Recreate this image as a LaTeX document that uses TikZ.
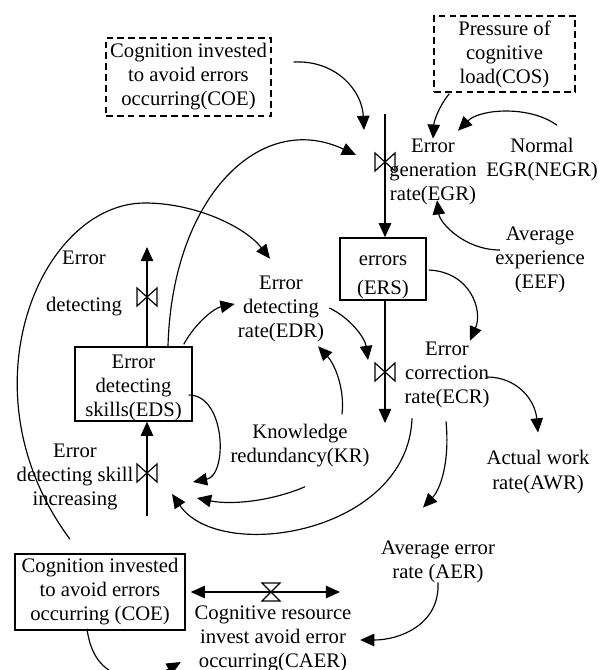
\documentclass[tikz,border=0pt]{standalone}
\usepackage{fontspec}
\setmainfont{Liberation Serif}
\usepackage{tikz}
\usetikzlibrary{arrows.meta}
\tikzstyle{sd_lvl} = [rectangle, draw=black, line width=0.9pt, align=center, inner sep=0pt]
\tikzstyle{sd_ext} = [rectangle, draw=black, dash pattern=on 4pt off 2.5pt, line width=0.8pt, align=center, inner sep=0pt]
\tikzstyle{sd_aux} = [align=center, inner sep=0pt]
\tikzstyle{sd_lnk} = [->, line width=0.7pt]
\tikzstyle{sd_flw} = [->, line width=0.7pt]
\tikzset{sd_valve/.pic={\draw[line width=0.7pt] (-10,-9) -- (-10,9) -- (10,-9) -- (10,9) -- cycle;},
sd_valveh/.pic={\draw[line width=0.7pt] (-9,-9) -- (9,-9) -- (-9,9) -- (9,9) -- cycle;}}

\begin{document}
\begin{tikzpicture}[x=0.6pt, y=-0.6pt, >={Triangle[length=8.5pt,width=7.5pt]},
font=\fontsize{12.4}{14.4}\selectfont]
\useasboundingbox (0,0) rectangle (599,670);

\node [sd_ext, minimum width=99pt, minimum height=46.8pt] (coe_x) at (188.5,77) {Cognition invested\\to avoid errors\\occurring(COE)};
\node [sd_ext, minimum width=84.6pt, minimum height=45.6pt] (cos_x) at (504.5,54) {Pressure of\\cognitive\\load(COS)};
\node [sd_aux] (egr) at (433,172) {Error\\generation\\rate(EGR)};
\node [sd_aux] (negr) at (542,160) {Normal\\EGR(NEGR)};
\node [sd_aux] (eef) at (540,260) {Average\\experience\\(EEF)};
\node [sd_lvl, minimum width=51.6pt, minimum height=37.2pt] (ers) at (383,269) {\rule{0pt}{15.6pt}errors\\[3pt](ERS)};
\node [sd_aux] (edr) at (281,309) {Error\\detecting\\rate(EDR)};
\node [sd_lvl, minimum width=70.2pt, minimum height=42pt] (eds) at (133.5,384) {\rule{0pt}{12.9pt}Error\\detecting\\skills(EDS)};
\node [sd_aux] (ecr) at (447,375) {Error\\correction\\rate(ECR)};
\node [sd_aux] (kr) at (300,446) {Knowledge\\redundancy(KR)};
\node [sd_aux] (awr) at (538,472) {Actual work\\[1pt]rate(AWR)};
\node [sd_aux] (aer) at (438,562) {Average error\\rate (AER)};
\node [sd_aux] (caer) at (273,639) {Cognitive resource\\invest avoid error\\occurring(CAER)};
\node [sd_lvl, minimum width=102pt, minimum height=45.6pt] (coe) at (100,592) {Cognition invested\\to avoid errors\\occurring (COE)};
\node [sd_aux] (edd_lbl) at (84,283) {Error\\[13.8pt]detecting};
\node [sd_aux] (edi_lbl) at (75,477) {Error\\detecting skill\\increasing};

\coordinate (v_egr) at (385,162);
\coordinate (v_ecr) at (385,372);
\coordinate (v_edd) at (147,297);
\coordinate (v_edi) at (147,473);
\coordinate (v_cae) at (271,592);
\coordinate (egr_src) at (385,114);
\coordinate (ecr_snk) at (385,423);
\coordinate (edd_snk) at (147,247);
\coordinate (edi_src) at (147,516);
\coordinate (cae_snk) at (340,592);

\draw [sd_flw] (egr_src) -- (egr_src |- ers.north);
\draw [sd_flw] (ers.south -| ecr_snk) -- (ecr_snk);
\draw [sd_flw] (eds.north -| edd_snk) -- (edd_snk);
\draw [sd_flw] (edi_src) -- (edi_src |- eds.south);
\draw [sd_flw, <->, shorten <=3pt] (coe.east) -- (cae_snk);
\pic at (v_egr) {sd_valve};
\pic at (v_ecr) {sd_valve};
\pic at (v_edd) {sd_valve};
\pic at (v_edi) {sd_valve};
\pic at (v_cae) {sd_valveh};

\draw [sd_lnk] ([shift={(22,-15)}]coe_x.east) .. controls +(42,-2) and +(-2,-40) .. ([shift={(-21,-32)}]v_egr);
\draw [sd_lnk] ([shift={(16,1)}]cos_x.south west) .. controls +(-10,12) and +(1,-18) .. (egr.north);
\draw [sd_lnk] ([shift={(15,-13)}]negr.north) .. controls +(-27,-20) and +(22,-22) .. ([shift={(25,-8)}]egr.north);
\draw [sd_lnk] ([shift={(5,-10)}]eef.west) .. controls +(-35,0) and +(3,23) .. ([shift={(4,-5)}]egr.south);
\draw [sd_lnk] ([shift={(34.5,0)}]eds.north) .. controls +(4,-149) and +(-96,-45) .. ([shift={(-29,-7)}]v_egr);
\draw [sd_lnk] ([shift={(-30,-14)}]coe.north) .. controls +(-110,-148) and +(-105,0) .. (145,203)
      .. controls +(50,0) and +(-25,-32) .. ([shift={(-11,-17)}]edr.north);
\draw [sd_lnk] ([shift={(-9,-2)}]eds.north east) .. controls +(12,-22) and +(-20,4) .. ([shift={(-3,-5)}]edr.west);
\draw [sd_lnk] ([shift={(5,-1)}]edr.east) .. controls +(21,10) and +(-3,-22) .. ([shift={(-17,-12)}]v_ecr);
\draw [sd_lnk] ([shift={(42,-10)}]kr.north) .. controls +(3,-27) and +(16,17) .. ([shift={(37,4)}]edr.south);
\draw [sd_lnk] ([shift={(2,1)}]ers.east) .. controls +(42,2) and +(13,-30) .. ([shift={(23,-1)}]ecr.north);
\draw [sd_lnk] ([shift={(-3,2)}]ecr.east) .. controls +(30,0) and +(-3,-33) .. ([shift={(0,-17)}]awr.north);
\draw [sd_lnk] ([shift={(-35,10)}]ecr.south) .. controls +(-4,115) and +(48,70) .. ([shift={(25,21)}]v_edi);
\draw [sd_lnk] ([shift={(-1,13)}]ecr.south) .. controls +(4,42) and +(17,-18) .. ([shift={(-15,-33)}]aer.north);
\draw [sd_lnk] ([shift={(5,19)}]kr.south) .. controls +(-35,15) and +(33,7) .. ([shift={(50,25)}]v_edi);
\draw [sd_lnk] ([shift={(-4,11)}]eds.east) .. controls +(37,0) and +(35,-7) .. ([shift={(46,9)}]v_edi);
\draw [sd_lnk] ([shift={(0,-1)}]aer.south) .. controls +(2,42) and +(40,0) .. ([shift={(8.5,1)}]caer.east);
\draw [sd_lnk] ([shift={(-13,-2)}]coe.south) .. controls +(8,62) and +(-31,18) .. ([shift={(-13.5,23)}]caer.west);
\end{tikzpicture}
\end{document}
